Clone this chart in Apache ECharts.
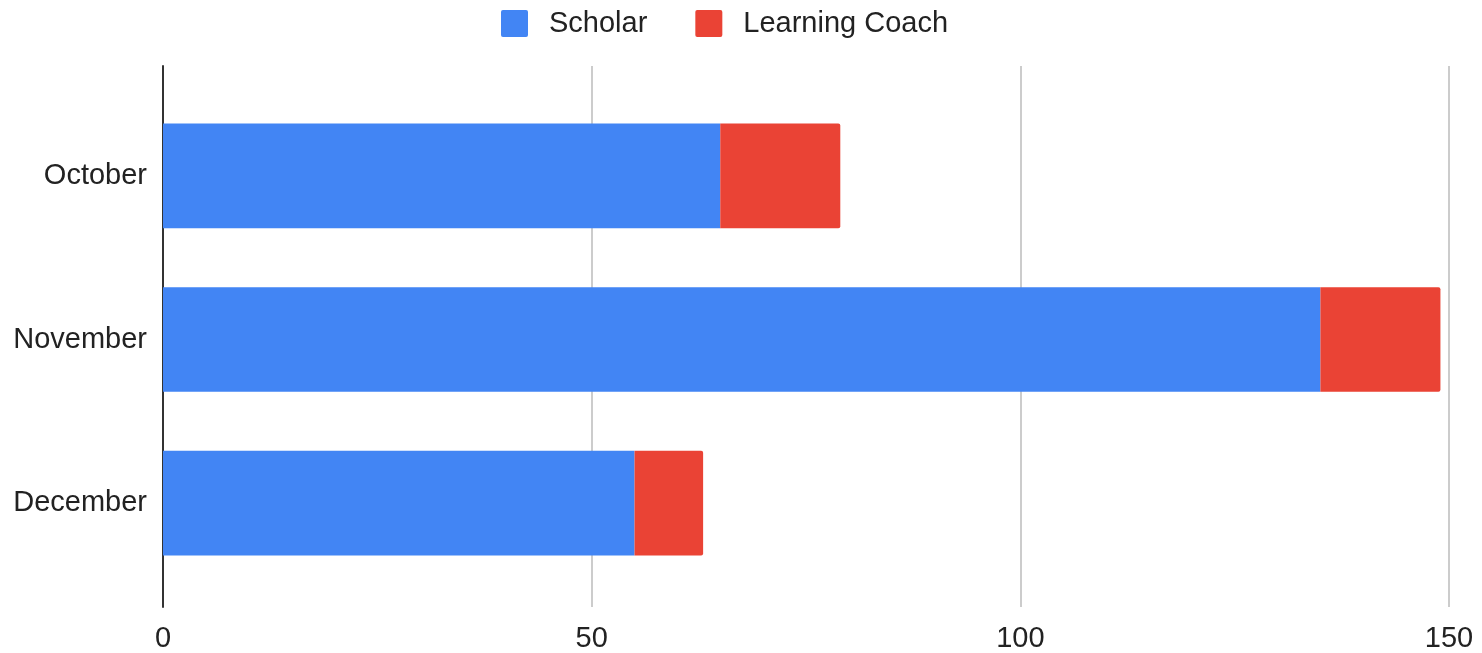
<!DOCTYPE html>
<html>
<head>
<meta charset="utf-8">
<style>html,body{margin:0;padding:0;background:#fff}#c{width:1482px;height:653px}</style>
<script src="https://cdn.jsdelivr.net/npm/echarts@6/dist/echarts.min.js"></script>
</head>
<body>
<div id="c"></div>
<script>
const categories = ["October", "November", "December"];
const scholar = [65, 135, 55];
const learningCoach = [14, 14, 8];
const xTicks = [0, 50, 100, 150];

const chart = echarts.init(document.getElementById('c'));
const font = '"Liberation Sans", Arial, sans-serif';
const icon = 'path://M2,0H26Q28,0 28,2V26Q28,28 26,28H2Q0,28 0,26V2Q0,0 2,0Z';
chart.setOption({
  animation: false,
  textStyle: { fontFamily: font },
  legend: {
    top: 4, left: 496,
    itemWidth: 29, itemHeight: 27, itemGap: 48,
    icon: icon,
    textStyle: { fontSize: 29, color: '#222', fontFamily: font, padding: [0, 0, 0, 15], lineHeight: 29 },
    data: ['Scholar', 'Learning Coach']
  },
  grid: [
    { left: 163, right: 33, top: 66, bottom: 39 },
    { left: 163, right: 33, top: 94, bottom: 68 }
  ],
  xAxis: [
    { type: 'value', gridIndex: 0, min: 0, max: 150, interval: 50,
      axisLine: { show: false }, axisTick: { show: false },
      splitLine: { lineStyle: { color: '#cccccc', width: 2 } },
      axisLabel: { fontSize: 29, color: '#222', margin: 17, fontFamily: font,
        formatter: v => xTicks.includes(v) ? String(v) : '' } },
    { type: 'value', gridIndex: 1, min: 0, max: 150, interval: 50, show: false }
  ],
  yAxis: [
    { type: 'category', gridIndex: 0, data: [''], axisTick: { show: false },
      axisLabel: { show: false },
      axisLine: { lineStyle: { color: '#333', width: 2 } } },
    { type: 'category', gridIndex: 1, data: categories, inverse: true,
      axisLine: { show: false }, axisTick: { show: false },
      axisLabel: { fontSize: 29, color: '#222', margin: 16, fontFamily: font } }
  ],
  series: [
    { name: 'Scholar', type: 'bar', stack: 't', xAxisIndex: 1, yAxisIndex: 1,
      data: scholar, barCategoryGap: '36%', itemStyle: { color: '#4285F4' } },
    { name: 'Learning Coach', type: 'bar', stack: 't', xAxisIndex: 1, yAxisIndex: 1,
      data: learningCoach, barCategoryGap: '36%', itemStyle: { color: '#EA4335', borderRadius: [0, 2, 2, 0] } }
  ]
});
</script>
</body>
</html>
